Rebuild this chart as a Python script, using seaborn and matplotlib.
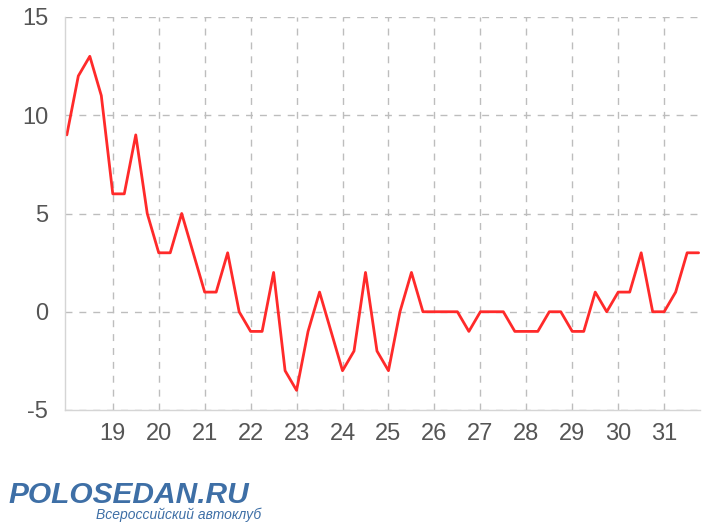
import numpy as np
import pandas as pd
import matplotlib.pyplot as plt
import seaborn as sns
from matplotlib.ticker import MultipleLocator

# Data: readings every 6 hours, days 18..31
days = np.arange(18, 32, 0.25)
temps = [9, 12, 13, 11, 6, 6, 9, 5,
         3, 3, 5, 3, 1, 1, 3, 0,
         -1, -1, 2, -3, -4, -1, 1, -1,
         -3, -2, 2, -2, -3, 0, 2, 0,
         0, 0, 0, -1, 0, 0, 0, -1,
         -1, -1, 0, 0, -1, -1, 1, 0,
         1, 1, 3, 0, 0, 1, 3, 3]
day_ticks = list(range(19, 32))
y_ticks = [-5, 0, 5, 10, 15]

df = pd.DataFrame({'day': days, 'temp': temps})

sns.set_style("white")
plt.rcParams['font.family'] = ['Liberation Sans', 'DejaVu Sans']
plt.rcParams['axes.unicode_minus'] = False

fig = plt.figure(figsize=(7.02, 5.24), dpi=100)
ax = fig.add_axes([65 / 702, 1 - 410 / 524, 635 / 702, 393 / 524])

sns.lineplot(data=df, x='day', y='temp', color='#ff2a2a', linewidth=2.0, ax=ax)

ax.set_xlim(17.96, 31.78)
ax.set_ylim(-5, 15)
ax.set_xticks(day_ticks)
ax.set_yticks(y_ticks)
ax.xaxis.set_minor_locator(MultipleLocator(0.25))
ax.yaxis.set_minor_locator(MultipleLocator(1))
ax.tick_params(axis='both', which='major', length=0, labelsize=17,
               labelcolor='#555555', pad=9)
ax.tick_params(axis='both', which='minor', length=4, direction='in',
               color='#d8d8d8', width=0.8)
ax.tick_params(axis='y', which='major', pad=12)
ax.set_xlabel('')
ax.set_ylabel('')

ax.grid(True, which='major', color='#bdbdbd', linestyle=(0, (5, 5)), linewidth=1)
for side in ['top', 'right']:
    ax.spines[side].set_visible(False)
for side in ['left', 'bottom']:
    ax.spines[side].set_color('#d5d5d5')
    ax.spines[side].set_linewidth(1)

# logo text
fig.text(8 / 702, 1 - 503 / 524, 'POLOSEDAN.RU', fontsize=21.5, fontweight='bold',
         fontstyle='italic', color='#3e6fa6', ha='left', va='baseline')
fig.text(96 / 702, 1 - 519 / 524, 'Всероссийский автоклуб', fontsize=10,
         fontstyle='italic', color='#3e6fa6', ha='left', va='baseline')

fig.savefig('out.png', dpi=100)
